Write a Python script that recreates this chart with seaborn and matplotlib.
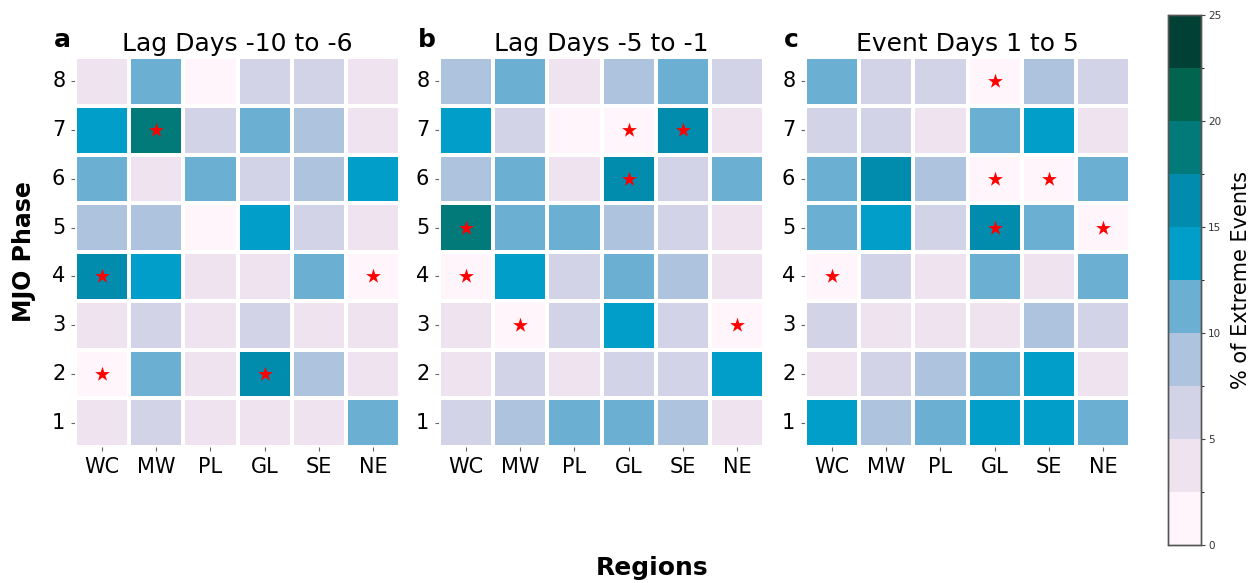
import numpy as np
import pandas as pd
import matplotlib
matplotlib.use("Agg")
import matplotlib.pyplot as plt
from matplotlib.colors import ListedColormap, BoundaryNorm
import seaborn as sns

regions = ["WC", "MW", "PL", "GL", "SE", "NE"]
phases = [8, 7, 6, 5, 4, 3, 2, 1]

titles = ["Lag Days -10 to -6", "Lag Days -5 to -1", "Event Days 1 to 5"]
letters = ["a", "b", "c"]

# % of extreme events (rows: phase 8 -> 1; cols: WC MW PL GL SE NE)
vals_a = [
    [3.8, 11.2, 1.2, 6.2, 6.2, 3.8],
    [13.8, 18.8, 6.2, 11.2, 8.8, 3.8],
    [11.2, 3.8, 11.2, 6.2, 8.8, 13.8],
    [8.8, 8.8, 1.2, 13.8, 6.2, 3.8],
    [16.2, 13.8, 3.8, 3.8, 11.2, 1.2],
    [3.8, 6.2, 3.8, 6.2, 3.8, 3.8],
    [1.2, 11.2, 3.8, 16.2, 8.8, 3.8],
    [3.8, 6.2, 3.8, 3.8, 3.8, 11.2],
]
vals_b = [
    [8.8, 11.2, 3.8, 8.8, 11.2, 6.2],
    [13.8, 6.2, 1.2, 1.2, 16.2, 3.8],
    [8.8, 11.2, 3.8, 16.2, 6.2, 11.2],
    [18.8, 11.2, 11.2, 8.8, 6.2, 3.8],
    [1.2, 13.8, 6.2, 11.2, 8.8, 3.8],
    [3.8, 1.2, 6.2, 13.8, 6.2, 1.2],
    [3.8, 6.2, 3.8, 6.2, 6.2, 13.8],
    [6.2, 8.8, 11.2, 11.2, 8.8, 3.8],
]
vals_c = [
    [11.2, 6.2, 6.2, 1.2, 8.8, 6.2],
    [6.2, 6.2, 3.8, 11.2, 13.8, 3.8],
    [11.2, 16.2, 8.8, 1.2, 1.2, 11.2],
    [11.2, 13.8, 6.2, 16.2, 11.2, 1.2],
    [1.2, 6.2, 3.8, 11.2, 3.8, 11.2],
    [6.2, 3.8, 3.8, 3.8, 8.8, 6.2],
    [3.8, 6.2, 8.8, 11.2, 13.8, 3.8],
    [13.8, 8.8, 11.2, 13.8, 13.8, 11.2],
]

# significant cells (phase, region)
stars_a = [(7, "MW"), (4, "WC"), (4, "NE"), (2, "WC"), (2, "GL")]
stars_b = [(7, "GL"), (7, "SE"), (6, "GL"), (5, "WC"), (4, "WC"), (3, "MW"), (3, "NE")]
stars_c = [(8, "GL"), (6, "GL"), (6, "SE"), (5, "GL"), (5, "NE"), (4, "WC")]

palette = ["#fff5fa", "#efe3ef", "#d3d3e7", "#adc3de", "#6bb0d3",
           "#019ec9", "#018bad", "#017a79", "#01644f", "#014034"]
levels = [0, 2.5, 5, 7.5, 10, 12.5, 15, 17.5, 20, 22.5, 25]
cbar_ticks = [0, 5, 10, 15, 20, 25]

cmap = ListedColormap(palette)
norm = BoundaryNorm(levels, cmap.N)

sns.set_style("white")
plt.rcParams["font.family"] = ["DejaVu Sans"]
plt.rcParams["text.color"] = "black"
plt.rcParams["axes.labelcolor"] = "black"
plt.rcParams["xtick.color"] = "black"
plt.rcParams["ytick.color"] = "black"

fig = plt.figure(figsize=(12.5, 5.83), dpi=100)
W, H = 1250, 583


def frac(x0, y0, x1, y1):
    return [x0 / W, 1 - y1 / H, (x1 - x0) / W, (y1 - y0) / H]


ax_boxes = [frac(75, 57, 400, 447), frac(439, 57, 764, 447), frac(805, 57, 1130, 447)]
cax = fig.add_axes(frac(1168, 15, 1201, 545))

datasets = [vals_a, vals_b, vals_c]
starsets = [stars_a, stars_b, stars_c]

for i, (box, vals, stars) in enumerate(zip(ax_boxes, datasets, starsets)):
    ax = fig.add_axes(box)
    df = pd.DataFrame(vals, index=phases, columns=regions)
    sns.heatmap(df, ax=ax, cmap=cmap, norm=norm, vmin=0, vmax=25,
                linewidths=1.6, linecolor="white",
                cbar=(i == 0), cbar_ax=cax if i == 0 else None,
                cbar_kws={"ticks": cbar_ticks} if i == 0 else None)
    xs = [regions.index(r) + 0.5 for p, r in stars]
    ys = [phases.index(p) + 0.5 for p, r in stars]
    ax.scatter(xs, ys, marker="*", s=125, color="red", linewidths=0, zorder=5)
    ax.set_title(titles[i], fontsize=18, pad=4, color="black")
    ax.text(-0.065, 1.012, letters[i], transform=ax.transAxes, fontsize=18,
            fontweight="bold", ha="left", va="bottom", color="black")
    ax.set_xlabel("")
    ax.set_ylabel("")
    ax.tick_params(axis="both", which="major", labelsize=15, length=3,
                   width=0.8, color="#666666", labelcolor="black",
                   left=True, bottom=True, pad=4)
    ax.set_yticklabels([str(p) for p in phases], rotation=0)
    ax.set_xticklabels(regions, rotation=0)

cbar = cax.collections[0].colorbar if cax.collections else None
cax.tick_params(labelsize=7.5, length=3, width=0.8, color="#444444",
                labelcolor="#333333", pad=2)
cax.set_ylabel("% of Extreme Events", fontsize=15, color="black")
cax.yaxis.set_label_coords(1.9, 0.5)
for sp in cax.spines.values():
    sp.set_visible(True)
    sp.set_edgecolor("#555555")
    sp.set_linewidth(1.0)
if cbar is not None:
    cbar.outline.set_visible(True)
    cbar.outline.set_edgecolor("#555555")
    cbar.outline.set_linewidth(1.0)

fig.text(0.019, (1 - 252 / H), "MJO Phase", rotation=90, fontsize=17,
         fontweight="bold", ha="center", va="center", color="black")
fig.text(652 / W, 1 - 568 / H, "Regions", fontsize=18, fontweight="bold",
         ha="center", va="center", color="black")

fig.savefig("out.png", dpi=100)
